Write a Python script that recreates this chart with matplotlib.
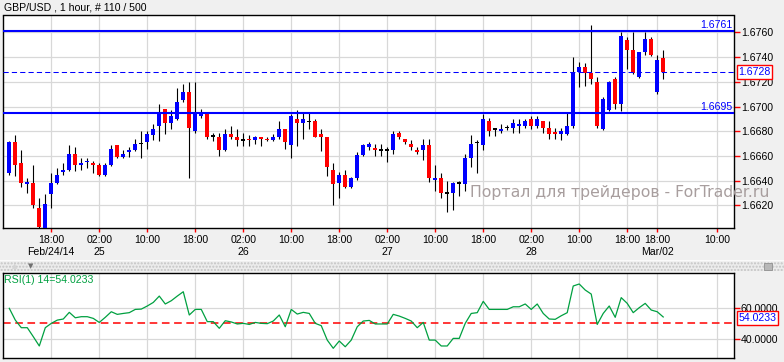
import numpy as np
import matplotlib
matplotlib.use("Agg")
import matplotlib.pyplot as plt
from matplotlib.patches import Rectangle

plt.rcParams['font.family'] = ['Liberation Sans', 'DejaVu Sans']

# GBP/USD hourly bars, oldest first
opens = [1.6646, 1.6671, 1.6654, 1.6637, 1.6638, 1.6618, 1.6602, 1.6629, 1.6638, 1.6647,
         1.6649, 1.6662, 1.6653, 1.6655, 1.6654, 1.6653, 1.6645, 1.6653, 1.6669, 1.6659,
         1.6663, 1.6665, 1.6670, 1.6671, 1.6677, 1.6684, 1.6698, 1.6687, 1.6690, 1.6705,
         1.6712, 1.6680, 1.6692, 1.6695, 1.6676, 1.6675, 1.6665, 1.6678, 1.6675, 1.6673,
         1.6674, 1.6673, 1.6675, 1.6674, 1.6673, 1.6675, 1.6682, 1.6669, 1.6690, 1.6687,
         1.6688, 1.6688, 1.6678, 1.6675, 1.6649, 1.6638, 1.6645, 1.6635, 1.6642, 1.6661,
         1.6667, 1.6666, 1.6665, 1.6665, 1.6665, 1.6679, 1.6674, 1.6670, 1.6665, 1.6665,
         1.6669, 1.6641, 1.6642, 1.6630, 1.6630, 1.6638, 1.6637, 1.6658, 1.6671, 1.6669,
         1.6688, 1.6682, 1.6680, 1.6683, 1.6683, 1.6684, 1.6684, 1.6690, 1.6684, 1.6688,
         1.6683, 1.6679, 1.6678, 1.6678, 1.6684, 1.6728, 1.6732, 1.6727, 1.6720, 1.6682,
         1.6697, 1.6722, 1.6702, 1.6754, 1.6746, 1.6724, 1.6744, 1.6755, 1.6712, 1.6739]
highs = [1.6672, 1.6677, 1.6665, 1.6642, 1.6653, 1.6626, 1.6629, 1.6646, 1.6650, 1.6654,
         1.6669, 1.6667, 1.6658, 1.6658, 1.6656, 1.6654, 1.6654, 1.6669, 1.6669, 1.6665,
         1.6667, 1.6674, 1.6680, 1.6680, 1.6686, 1.6702, 1.6698, 1.6697, 1.6715, 1.6718,
         1.6720, 1.6720, 1.6698, 1.6695, 1.6679, 1.6679, 1.6682, 1.6684, 1.6682, 1.6679,
         1.6677, 1.6676, 1.6675, 1.6675, 1.6678, 1.6688, 1.6682, 1.6694, 1.6697, 1.6695,
         1.6695, 1.6690, 1.6682, 1.6675, 1.6654, 1.6647, 1.6649, 1.6643, 1.6663, 1.6670,
         1.6671, 1.6670, 1.6670, 1.6667, 1.6680, 1.6680, 1.6674, 1.6673, 1.6667, 1.6674,
         1.6674, 1.6653, 1.6646, 1.6640, 1.6639, 1.6640, 1.6662, 1.6677, 1.6673, 1.6694,
         1.6691, 1.6682, 1.6686, 1.6685, 1.6690, 1.6690, 1.6690, 1.6692, 1.6692, 1.6688,
         1.6688, 1.6683, 1.6683, 1.6695, 1.6740, 1.6736, 1.6735, 1.6766, 1.6724, 1.6708,
         1.6721, 1.6724, 1.6760, 1.6756, 1.6760, 1.6744, 1.6760, 1.6756, 1.6742, 1.6746]
lows = [1.6645, 1.6644, 1.6635, 1.6630, 1.6618, 1.6597, 1.6596, 1.6618, 1.6637, 1.6645,
        1.6648, 1.6648, 1.6649, 1.6650, 1.6646, 1.6644, 1.6644, 1.6652, 1.6658, 1.6658,
        1.6659, 1.6664, 1.6658, 1.6666, 1.6673, 1.6672, 1.6678, 1.6682, 1.6689, 1.6704,
        1.6642, 1.6679, 1.6691, 1.6674, 1.6672, 1.6660, 1.6664, 1.6674, 1.6668, 1.6668,
        1.6668, 1.6670, 1.6668, 1.6672, 1.6672, 1.6674, 1.6666, 1.6658, 1.6668, 1.6674,
        1.6682, 1.6675, 1.6664, 1.6644, 1.6620, 1.6626, 1.6634, 1.6634, 1.6641, 1.6660,
        1.6665, 1.6660, 1.6660, 1.6655, 1.6662, 1.6674, 1.6670, 1.6665, 1.6662, 1.6657,
        1.6639, 1.6632, 1.6626, 1.6615, 1.6616, 1.6628, 1.6632, 1.6651, 1.6646, 1.6665,
        1.6676, 1.6676, 1.6679, 1.6681, 1.6679, 1.6679, 1.6683, 1.6682, 1.6683, 1.6679,
        1.6674, 1.6674, 1.6673, 1.6677, 1.6683, 1.6716, 1.6717, 1.6718, 1.6683, 1.6681,
        1.6696, 1.6698, 1.6696, 1.6730, 1.6726, 1.6723, 1.6742, 1.6741, 1.6710, 1.6722]
closes = [1.6671, 1.6653, 1.6638, 1.6639, 1.6620, 1.6603, 1.6621, 1.6638, 1.6645, 1.6649,
          1.6662, 1.6653, 1.6654, 1.6656, 1.6653, 1.6645, 1.6653, 1.6666, 1.6659, 1.6662,
          1.6665, 1.6670, 1.6670, 1.6678, 1.6682, 1.6694, 1.6687, 1.6692, 1.6704, 1.6712,
          1.6683, 1.6695, 1.6695, 1.6675, 1.6676, 1.6665, 1.6678, 1.6675, 1.6673, 1.6673,
          1.6673, 1.6675, 1.6674, 1.6673, 1.6675, 1.6682, 1.6671, 1.6692, 1.6687, 1.6690,
          1.6688, 1.6675, 1.6675, 1.6651, 1.6637, 1.6645, 1.6635, 1.6642, 1.6661, 1.6669,
          1.6670, 1.6665, 1.6665, 1.6665, 1.6678, 1.6675, 1.6671, 1.6667, 1.6663, 1.6669,
          1.6642, 1.6642, 1.6630, 1.6630, 1.6638, 1.6638, 1.6658, 1.6670, 1.6671, 1.6690,
          1.6680, 1.6682, 1.6682, 1.6683, 1.6687, 1.6686, 1.6688, 1.6684, 1.6690, 1.6683,
          1.6678, 1.6678, 1.6680, 1.6684, 1.6728, 1.6732, 1.6727, 1.6722, 1.6684, 1.6706,
          1.6720, 1.6702, 1.6757, 1.6746, 1.6727, 1.6744, 1.6755, 1.6742, 1.6738, 1.6728]

rsi = [59.6, 52.0, 47.1, 47.1, 41.3, 35.3, 47.1, 49.9, 52.0, 52.7,
       57.0, 53.5, 54.2, 54.2, 53.1, 50.5, 53.8, 57.4, 55.7, 56.3,
       56.8, 58.9, 59.1, 61.1, 63.4, 67.5, 62.4, 64.5, 67.5, 70.3,
       55.3, 58.9, 58.9, 51.0, 51.0, 46.7, 51.6, 50.8, 49.5, 49.9,
       49.2, 50.5, 49.9, 49.7, 51.4, 55.3, 47.7, 58.9, 55.9, 57.0,
       56.3, 49.9, 48.4, 39.1, 33.8, 38.5, 34.8, 39.1, 47.7, 51.4,
       51.8, 49.5, 49.5, 49.5, 55.7, 54.6, 53.1, 51.4, 47.1, 50.5,
       39.1, 39.1, 35.3, 35.3, 40.2, 40.2, 49.9, 56.3, 56.8, 64.1,
       58.9, 58.9, 58.9, 58.9, 60.6, 60.6, 62.4, 58.9, 62.4, 56.3,
       52.7, 52.5, 54.8, 56.8, 74.0, 75.3, 71.4, 68.8, 49.2, 56.3,
       61.1, 53.8, 66.5, 62.8, 56.8, 60.0, 62.8, 58.5, 57.4, 54.0233]

# bar index of each time tick
tick_pos = [7, 15, 23, 31, 39, 47, 55, 63, 71, 79, 87, 95, 103, 108, 118]
tick_times = ["18:00", "02:00", "10:00", "18:00", "02:00", "10:00", "18:00", "02:00",
              "10:00", "18:00", "02:00", "10:00", "18:00", "18:00", "10:00"]
tick_dates = ["Feb/24/14", "25", "", "", "26", "", "", "27",
              "", "", "28", "", "", "Mar/02", ""]

price_ticks = [1.6620, 1.6640, 1.6660, 1.6680, 1.6700, 1.6720, 1.6740, 1.6760]
level_lines = [1.6761, 1.6695]
last_price = 1.6728
rsi_ticks = [40, 60]

W, H = 784, 362
fig = plt.figure(figsize=(W / 100, H / 100), dpi=100, facecolor='#f0f0f0')

def frame(left, top, right, bottom):
    return [left / W, 1 - bottom / H, (right - left) / W, (bottom - top) / H]

ax = fig.add_axes(frame(3, 15.5, 734, 228))
rax = fig.add_axes(frame(3, 273.3, 734, 358.3))

x = np.arange(len(opens))
o = np.array(opens)
c = np.array(closes)
hi = np.array(highs)
lo = np.array(lows)

cols = np.where(c > o, '#0000ff', np.where(c < o, '#ff0000', 'black'))
min_h = 0.00012
body = np.abs(c - o)
bottom = np.where(body < min_h, (o + c) / 2 - min_h / 2, np.minimum(o, c))
ax.vlines(x, lo, hi, color='black', lw=0.8, zorder=3)
ax.bar(x, np.maximum(body, min_h), bottom=bottom, width=0.7, color=cols,
       linewidth=0, zorder=4)

for lv in level_lines:
    ax.axhline(lv, color='#0000ff', lw=1.5, zorder=5)
    ax.text(0.998, lv + 0.00006, f"{lv:.4f}", transform=ax.get_yaxis_transform(),
            ha='right', va='bottom', color='#0000ff', fontsize=7.6, zorder=6)
ax.axhline(last_price, color='#0000ff', lw=0.75, ls=(0, (5, 3)), zorder=5)

ax.set_xlim(-1.05, 120.8)
ax.set_ylim(1.66018, 1.67736)
ax.set_xticks(tick_pos)
ax.set_xticklabels([t + ("\n" + d if d else "") for t, d in zip(tick_times, tick_dates)],
                   linespacing=1.25)
ax.set_yticks(price_ticks)
ax.set_yticklabels([f"{p:.4f}" for p in price_ticks])
ax.yaxis.tick_right()
ax.tick_params(axis='x', color='red', length=3, width=1, labelsize=7.6, pad=2)
ax.tick_params(axis='y', color='red', length=4, width=1, labelsize=7.6, pad=1)
ax.grid(True, color='#d8d8d8', lw=0.9, zorder=0)
ax.set_facecolor('white')
ax.set_axisbelow(True)
for s in ax.spines.values():
    s.set_color('black')
    s.set_linewidth(1)

box = dict(boxstyle='square,pad=0.16', facecolor='white', edgecolor='red', lw=1)
ax.text(1.006, last_price, f"{last_price:.4f}", transform=ax.get_yaxis_transform(),
        ha='left', va='center', color='#0000ff', fontsize=7.6, bbox=box, zorder=10,
        clip_on=False)

# RSI panel
rax.plot(x, rsi, color='#00a040', lw=0.9, zorder=3)
rax.axhline(50, color='red', lw=1.1, ls=(0, (5, 3)), zorder=2)
rax.set_xlim(-1.05, 120.8)
rax.set_ylim(27.35, 82.2)
rax.set_xticks(tick_pos)
rax.set_xticklabels([])
rax.set_yticks(rsi_ticks)
rax.set_yticklabels([f"{v:.4f}" for v in rsi_ticks])
rax.yaxis.tick_right()
rax.tick_params(axis='x', length=0)
rax.tick_params(axis='y', color='red', length=4, width=1, labelsize=7.6, pad=1)
rax.grid(True, color='#d8d8d8', lw=0.9, zorder=0)
rax.set_facecolor('white')
rax.set_axisbelow(True)
for s in rax.spines.values():
    s.set_color('black')
    s.set_linewidth(1)
rax.text(0.002, 0.92, f"RSI(1) 14={rsi[-1]:.4f}", transform=rax.transAxes,
         ha='left', va='center', color='#00a040', fontsize=7.6)
rax.text(1.006, rsi[-1] - 0.6, f"{rsi[-1]:.4f}", transform=rax.get_yaxis_transform(),
         ha='left', va='center', color='#0000ff', fontsize=7.6, bbox=box, zorder=10,
         clip_on=False)

# title, watermark and panel separator
fig.text(4 / W, 1 - 8 / H, "GBP/USD , 1 hour, # 110 / 500", ha='left', va='center',
         fontsize=7.6)
fig.text(470 / W, 1 - 197.5 / H, "Портал для трейдеров - ForTrader.ru",
         ha='left', va='baseline', fontsize=11.3, family=['DejaVu Sans'],
         color='#a89e9e', zorder=20)
fig.patches.append(Rectangle((0, 1 - 261 / H), 1, 1.5 / H, transform=fig.transFigure,
                             facecolor='#fafafa', lw=0, zorder=0))
fig.patches.append(Rectangle((0, 1 - 270.5 / H), 1, 9 / H, transform=fig.transFigure,
                             facecolor='#ececec', edgecolor='#c4c4c4', hatch='.....',
                             lw=0, zorder=0))
fig.patches.append(Rectangle((764 / W, 1 - 270 / H), 8 / W, 7 / H, transform=fig.transFigure,
                             facecolor='#b8b8b8', edgecolor='#909090', lw=0.6, zorder=1))
fig.text(15 / W, 1 - 266 / H, "\u25b2", ha='center', va='center', fontsize=5,
         color='#d4d4d4', family=['DejaVu Sans'])
fig.text(31 / W, 1 - 266 / H, "\u25bc", ha='center', va='center', fontsize=5,
         color='#707070', family=['DejaVu Sans'])

fig.savefig("out.png", dpi=100, facecolor=fig.get_facecolor())
